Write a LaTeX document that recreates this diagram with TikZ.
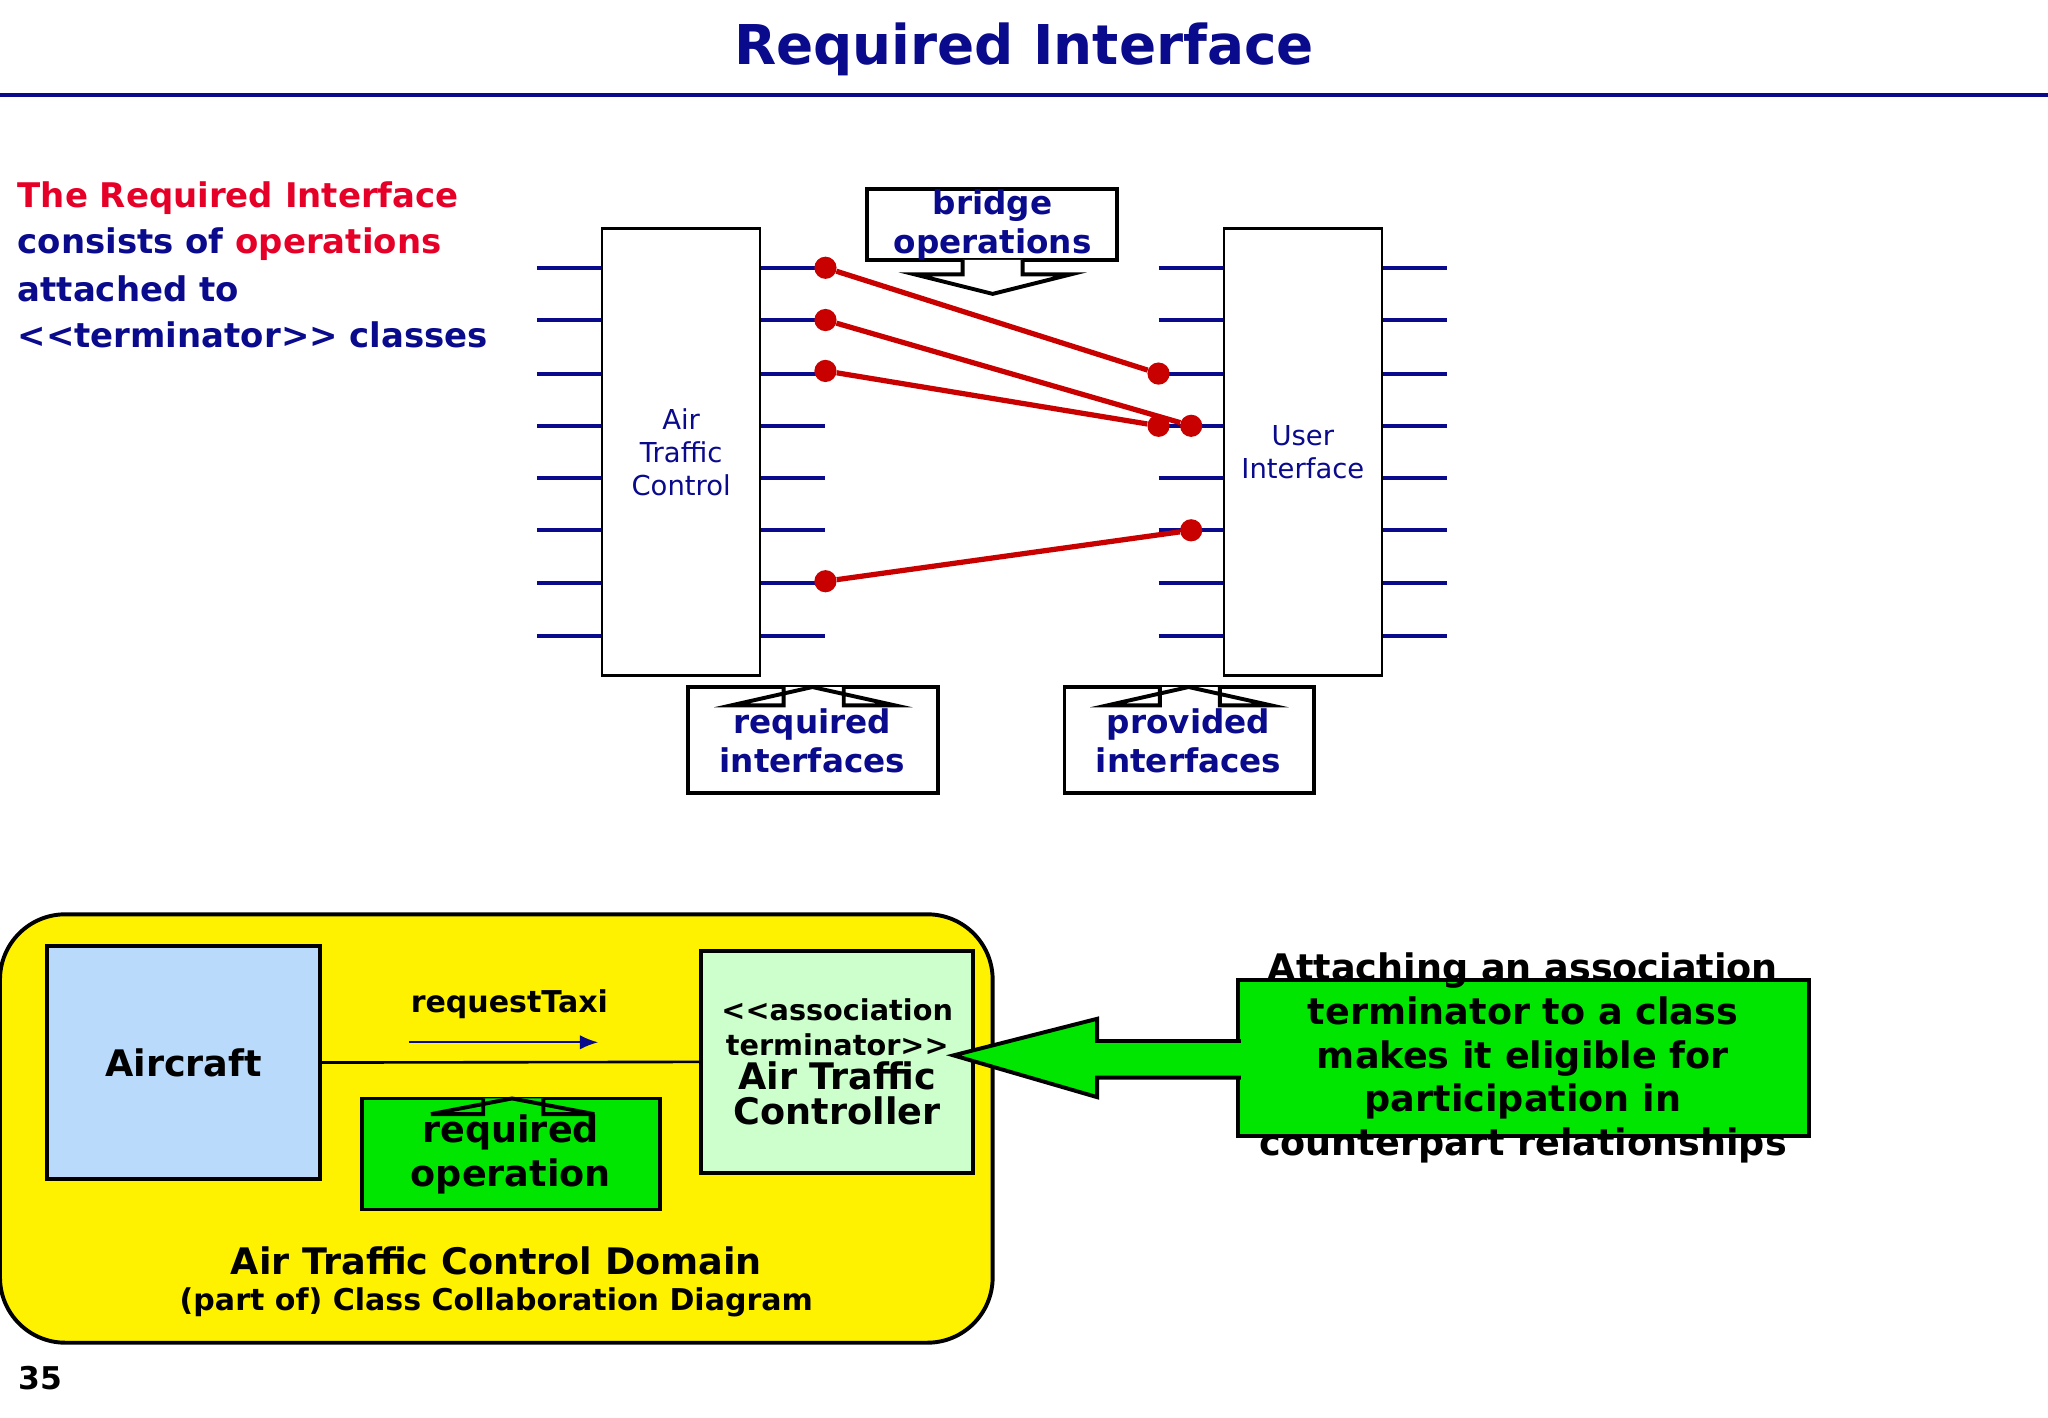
\documentclass[tikz,border=0pt]{standalone}
\usepackage{fontspec}
\usetikzlibrary{arrows.meta}
\setmainfont{DejaVu Sans}
\definecolor{navy}{RGB}{10,10,140}
\definecolor{redop}{RGB}{230,0,40}
\definecolor{wire}{RGB}{200,0,0}
\definecolor{skyfill}{RGB}{185,218,250}
\definecolor{mintfill}{RGB}{205,255,205}
\definecolor{limefill}{RGB}{0,230,0}
\newcommand{\fs}[1]{\fontsize{#1}{\dimexpr#1pt*6/5\relax}\selectfont}
\tikzset{
  stub/.style={navy,line width=3pt},
  klass/.style={draw,line width=2pt,fill=white},
  wirel/.style={wire,line width=4pt},
  dot/.style={circle,fill=wire,inner sep=0pt,minimum size=17pt},
  callout/.style={draw,line width=3pt,fill=white},
  ltxt/.style={anchor=west,font=\bfseries\fs{26},text=navy},
}
\begin{document}
\begin{tikzpicture}[x=1pt,y=-1pt]
    \useasboundingbox (0,0) rectangle (1568,1085);
    % title
    \node (title) at (784,38) {\bfseries\fs{42}\color{navy}Required Interface};
    \draw[navy,line width=3pt] (0,73) -- (1568,73);

    % left text
    \node[ltxt,text=redop] (t1) at (10,152) {The Required Interface};
    \node[ltxt] (t2) at (10,187) {consists of \textcolor{redop}{operations}};
    \node[ltxt] (t3) at (10,221) {attached to};
    \node[ltxt] (t4) at (10,256) {<{}<terminator>{}> classes};

    % stubs
    \foreach \y in {205,245,286,326,366,406,446,487} {
      \draw[stub] (411,\y) -- (461,\y);
      \draw[stub] (582,\y) -- (632,\y);
      \draw[stub] (887,\y) -- (937,\y);
      \draw[stub] (1058,\y) -- (1108,\y);
    }
    \node[klass,minimum width=121pt,minimum height=342pt,align=center,
      font=\fs{21},text=navy] (atc) at (521.5,346) {Air\\Traffic\\Control};
    \node[klass,minimum width=121pt,minimum height=342pt,align=center,
      font=\fs{21},text=navy] (ui) at (997.5,346) {User\\Interface};

    % bridge wires
    \node[dot] (r1) at (632,205) {};
    \node[dot] (r2) at (632,245) {};
    \node[dot] (r3) at (632,284) {};
    \node[dot] (r4) at (632,445) {};
    \node[dot] (p1) at (887,286) {};
    \node[dot] (p2) at (912,326) {};
    \node[dot] (p3) at (887,326) {};
    \node[dot] (p4) at (912,406) {};
    \draw[wirel] (r1) -- (p1);
    \draw[wirel] (r2) -- (p2);
    \draw[wirel] (r3) -- (p3);
    \draw[wirel] (r4) -- (p4);

    % callouts
    \node[callout,minimum width=191pt,minimum height=54pt] (bridge) at (759.5,172) {};
    \draw[line width=3pt,fill=white] (737,199) -- (737,210) -- (700,210) -- (760,225)
      -- (820,210) -- (783,210) -- (783,199);
    \node[align=center,font=\bfseries\fs{25},text=navy] (bridgetxt) at (760,172)
      {bridge\\operations};

    \node[callout,minimum width=191pt,minimum height=81pt] (req) at (622.5,566.5) {};
    \draw[line width=3pt,fill=white] (600,526) -- (600,540) -- (560,540) -- (622,526)
      -- (685,540) -- (646,540) -- (646,526);
    \node[align=center,font=\bfseries\fs{25},text=navy] (reqtxt) at (622,567)
      {required\\interfaces};

    \node[callout,minimum width=191pt,minimum height=81pt] (prov) at (910.5,566.5) {};
    \draw[line width=3pt,fill=white] (888,526) -- (888,540) -- (848,540) -- (910,526)
      -- (973,540) -- (934,540) -- (934,526);
    \node[align=center,font=\bfseries\fs{25},text=navy] (provtxt) at (910,567)
      {provided\\interfaces};

    % domain
    \draw[line width=3pt,fill=yellow,rounded corners=50pt] (0,700) rectangle (760,1028);
    \node[draw,line width=3pt,fill=skyfill,minimum width=209pt,minimum height=179pt,
      font=\bfseries\fs{28}] (aircraft) at (140.5,813.5) {Aircraft};
    \node[draw,line width=3pt,fill=mintfill,minimum width=208pt,minimum height=170pt,
      align=center,font=\bfseries\fs{22}] (ctrl) at (641,813)
      {<{}<association\\terminator>{}>\\{\fs{28}Air Traffic}\\{\fs{28}Controller}};
    \draw[line width=2pt] (aircraft.east) -- (ctrl.west);
    \node[font=\bfseries\fs{23}] (taxi) at (390,769) {requestTaxi};
    \coordinate (ta) at (313,798);
    \coordinate (tb) at (458,798);
    \draw[navy,line width=1.5pt,-{Latex[length=14pt,width=11pt]}] (ta) -- (tb);

    \node[draw,line width=3pt,fill=limefill,minimum width=228pt,minimum height=85pt] (reqop) at (391,883.5) {};
    \draw[line width=3pt,fill=limefill] (370,841) -- (370,853) -- (330,853) -- (392,841)
      -- (455,853) -- (416,853) -- (416,841);
    \node[align=center,font=\bfseries\fs{28}] (reqoptxt) at (391,884) {required\\operation};

    \node[font=\bfseries\fs{28}] (dom) at (380,965) {Air Traffic Control Domain};
    \node[font=\bfseries\fs{23}] (dom2) at (380,997) {(part of) Class Collaboration Diagram};

    % note
    \node[draw,line width=3pt,fill=limefill,minimum width=437pt,minimum height=120pt] (note) at (1166.5,810) {};
    \draw[line width=3pt,fill=limefill] (950,797) -- (840,797) -- (840,780) -- (730,808)
      -- (840,840) -- (840,825) -- (950,825);
    \node[align=center,font=\bfseries\fs{28}] (notetxt) at (1166,810)
      {Attaching an association\\terminator to a class\\makes it eligible for\\participation in\\counterpart relationships};

    \node[font=\bfseries\fs{24}] (page) at (31,1055) {35};
\end{tikzpicture}
\end{document}
